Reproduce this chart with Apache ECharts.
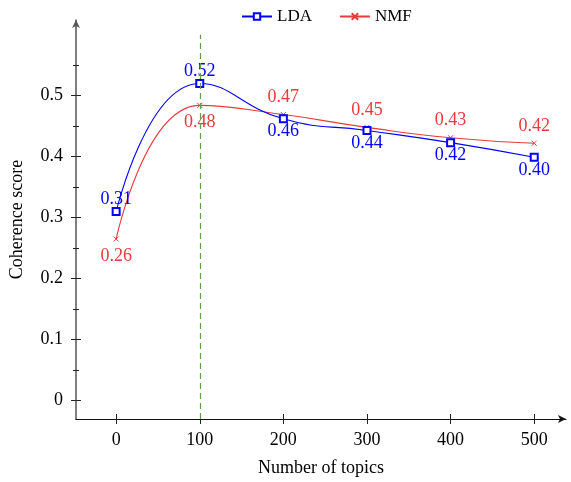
<!DOCTYPE html>
<html><head><meta charset="utf-8">
<script src="https://cdn.jsdelivr.net/npm/echarts@6/dist/echarts.min.js"></script>
<style>html,body{margin:0;padding:0;background:#fff}#c{width:571px;height:482px}</style>
</head><body><div id="c"></div>
<script>
const topics = [0, 100, 200, 300, 400, 500];
const ldaValues = [0.31, 0.52, 0.462, 0.443, 0.423, 0.399];
const ldaLabels = ['0.31', '0.52', '0.46', '0.44', '0.42', '0.40'];
const ldaLabelPos = ['top', 'top', 'bottom', 'bottom', 'bottom', 'bottom'];
const nmfValues = [0.265, 0.484, 0.469, 0.448, 0.431, 0.422];
const nmfLabels = ['0.26', '0.48', '0.47', '0.45', '0.43', '0.42'];
const nmfLabelPos = ['bottom', 'bottom', 'top', 'top', 'top', 'top'];
const xTicks = [0, 100, 200, 300, 400, 500];
const yTicks = [0, 0.1, 0.2, 0.3, 0.4, 0.5];
const yMinorTicks = [0.05, 0.15, 0.25, 0.35, 0.45, 0.55];
const refLineX = 100;
const refLineY = [-0.03, 0.6];

const FONT = 'Liberation Serif';
const BLUE = '#0000ff';
const RED = '#e8393b';
const GREEN = '#5f9f45';
const AX = '#555';
const X_MIN = -48, X_MAX = 538, Y_MIN = -0.03, Y_MAX = 0.624;

function mk(xs, ys, labels, pos) {
  return xs.map((x, i) => ({ value: [x, ys[i]], label: { position: pos[i], formatter: labels[i] } }));
}
function extraY(ticks, inside, len) {
  return {
    type: 'value', min: Y_MIN, max: Y_MAX, position: 'left', offset: 0,
    axisLine: { show: false, onZero: false },
    axisTick: { show: true, inside: inside, customValues: ticks, length: len, lineStyle: { color: '#222' } },
    axisLabel: { show: false }, splitLine: { show: false }
  };
}
const refStyle = { color: GREEN, type: [6, 4], width: 1.2, opacity: 1 };

const chart = echarts.init(document.getElementById('c'), null, { renderer: 'canvas' });
chart.setOption({
  animation: false,
  backgroundColor: '#fff',
  textStyle: { fontFamily: FONT },
  legend: {
    top: 3, left: 236,
    itemWidth: 30, itemHeight: 8, itemGap: 27,
    textStyle: { fontFamily: FONT, fontSize: 17, color: '#000' },
    data: ['LDA', 'NMF']
  },
  grid: { left: 75, top: 20, width: 491, height: 401, containLabel: false },
  xAxis: [{
    type: 'value', min: X_MIN, max: X_MAX,
    name: 'Number of topics', nameLocation: 'middle', nameGap: 40,
    nameTextStyle: { fontFamily: FONT, fontSize: 18, color: '#000' },
    axisLine: { show: true, onZero: false, lineStyle: { color: '#111', width: 1.2 }, symbol: ['none', 'arrow'], symbolSize: [6, 8] },
    axisTick: { show: true, customValues: xTicks, length: 5, lineStyle: { color: '#222' } },
    axisLabel: { customValues: xTicks, margin: 12, fontFamily: FONT, fontSize: 18, color: '#000' },
    splitLine: { show: false }
  }, {
    type: 'value', min: X_MIN, max: X_MAX, position: 'bottom', offset: 0,
    axisLine: { show: false, onZero: false },
    axisTick: { show: true, inside: true, customValues: xTicks, length: 5, lineStyle: { color: '#222' } },
    axisLabel: { show: false }, splitLine: { show: false }
  }],
  yAxis: [{
    type: 'value', min: Y_MIN, max: Y_MAX,
    name: 'Coherence score', nameLocation: 'middle', nameGap: 50, nameRotate: 90,
    nameTextStyle: { fontFamily: FONT, fontSize: 18, color: '#000' },
    axisLine: { show: true, onZero: false, lineStyle: { color: AX, width: 1.5 }, symbol: ['none', 'arrow'], symbolSize: [6, 8] },
    axisTick: { show: true, customValues: yTicks, length: 5, lineStyle: { color: '#222' } },
    axisLabel: { customValues: yTicks, margin: 13, fontFamily: FONT, fontSize: 18, color: '#000', formatter: v => String(+v.toFixed(2)) },
    splitLine: { show: false }
  }, extraY(yTicks, true, 5), extraY(yMinorTicks, true, 3), extraY(yMinorTicks, false, 3)],
  series: [{
    name: 'LDA', type: 'line', smooth: 0.5,
    data: mk(topics, ldaValues, ldaLabels, ldaLabelPos),
    symbol: 'emptyRect', symbolSize: 7,
    lineStyle: { color: BLUE, width: 1.1 },
    itemStyle: { color: BLUE, borderColor: BLUE, borderWidth: 1 },
    label: { show: true, fontFamily: FONT, fontSize: 18, color: BLUE, distance: -1 },
    z: 3
  }, {
    name: 'NMF', type: 'line', smooth: 0.5,
    data: mk(topics, nmfValues, nmfLabels, nmfLabelPos),
    symbol: 'path://M0,0L10,10M10,0L0,10', symbolSize: 5,
    lineStyle: { color: RED, width: 1.1 },
    itemStyle: { color: 'none', borderColor: RED, borderWidth: 1 },
    label: { show: true, fontFamily: FONT, fontSize: 18, color: RED, distance: 3 },
    z: 2
  }, {
    name: 'ref', type: 'line', data: [], silent: true,
    markLine: {
      silent: true, symbol: 'none', animation: false,
      lineStyle: refStyle,
      emphasis: { disabled: true },
      label: { show: false },
      data: [[{ coord: [refLineX, refLineY[0]], lineStyle: refStyle }, { coord: [refLineX, refLineY[1]] }]]
    }
  }]
});
</script>
</body></html>
